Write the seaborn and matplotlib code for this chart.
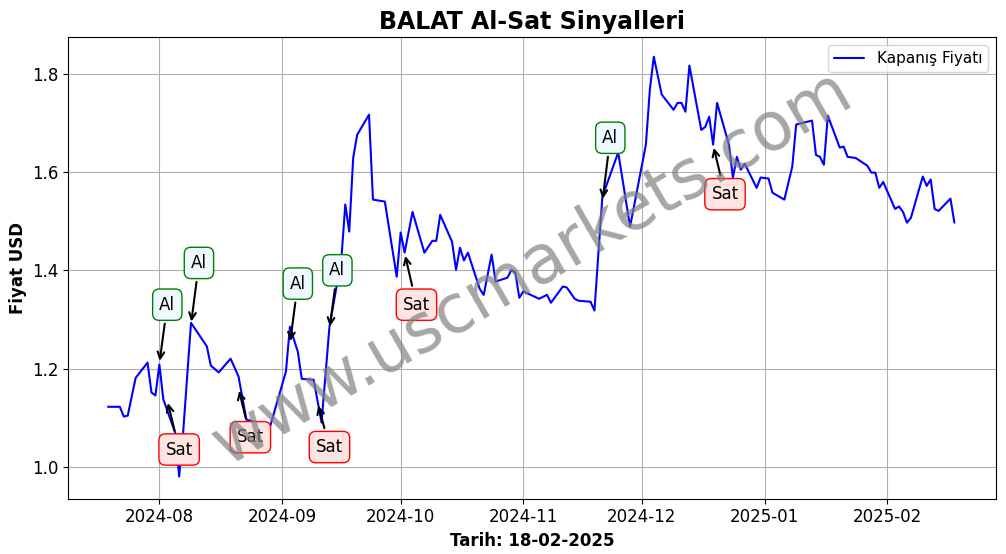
import matplotlib
matplotlib.use("Agg")
import matplotlib.pyplot as plt
import matplotlib.dates as mdates
import pandas as pd
import seaborn as sns

DATES = [
    "2024-07-19", "2024-07-22", "2024-07-23", "2024-07-24", "2024-07-26", "2024-07-29",
    "2024-07-30", "2024-07-31", "2024-08-01", "2024-08-02", "2024-08-05", "2024-08-06",
    "2024-08-07", "2024-08-09", "2024-08-13", "2024-08-14", "2024-08-16", "2024-08-19",
    "2024-08-21", "2024-08-23", "2024-08-29", "2024-09-02", "2024-09-03", "2024-09-05",
    "2024-09-06", "2024-09-09", "2024-09-11", "2024-09-13", "2024-09-16", "2024-09-17",
    "2024-09-18", "2024-09-19", "2024-09-20", "2024-09-23", "2024-09-24", "2024-09-27",
    "2024-09-30", "2024-10-01", "2024-10-02", "2024-10-04", "2024-10-07", "2024-10-09",
    "2024-10-10", "2024-10-11", "2024-10-14", "2024-10-15", "2024-10-16", "2024-10-17",
    "2024-10-18", "2024-10-21", "2024-10-22", "2024-10-24", "2024-10-25", "2024-10-28",
    "2024-10-29", "2024-10-30", "2024-10-31", "2024-11-01", "2024-11-05", "2024-11-07",
    "2024-11-08", "2024-11-11", "2024-11-12", "2024-11-14", "2024-11-15", "2024-11-18",
    "2024-11-19", "2024-11-20", "2024-11-21", "2024-11-25", "2024-11-28", "2024-12-02",
    "2024-12-03", "2024-12-04", "2024-12-06", "2024-12-09", "2024-12-10", "2024-12-11",
    "2024-12-12", "2024-12-13", "2024-12-16", "2024-12-17", "2024-12-18", "2024-12-19",
    "2024-12-20", "2024-12-23", "2024-12-24", "2024-12-25", "2024-12-26", "2024-12-27",
    "2024-12-30", "2024-12-31", "2025-01-02", "2025-01-03", "2025-01-06", "2025-01-08",
    "2025-01-09", "2025-01-13", "2025-01-14", "2025-01-15", "2025-01-16", "2025-01-17",
    "2025-01-20", "2025-01-21", "2025-01-22", "2025-01-24", "2025-01-27", "2025-01-28",
    "2025-01-29", "2025-01-30", "2025-01-31", "2025-02-03", "2025-02-04", "2025-02-05",
    "2025-02-06", "2025-02-07", "2025-02-10", "2025-02-11", "2025-02-12", "2025-02-13",
    "2025-02-14", "2025-02-17", "2025-02-18",
]
PRICES = [
    1.122, 1.122, 1.102, 1.104, 1.181, 1.212,
    1.151, 1.145, 1.208, 1.137, 1.069, 0.980,
    1.069, 1.293, 1.245, 1.206, 1.192, 1.220,
    1.184, 1.096, 1.082, 1.194, 1.285, 1.234,
    1.179, 1.177, 1.090, 1.285, 1.422, 1.534,
    1.479, 1.629, 1.676, 1.717, 1.544, 1.540,
    1.387, 1.477, 1.436, 1.519, 1.436, 1.460,
    1.460, 1.513, 1.458, 1.401, 1.446, 1.420,
    1.436, 1.362, 1.350, 1.432, 1.377, 1.385,
    1.401, 1.395, 1.344, 1.357, 1.342, 1.350,
    1.334, 1.367, 1.365, 1.342, 1.338, 1.336,
    1.318, 1.436, 1.550, 1.640, 1.489, 1.656,
    1.768, 1.835, 1.758, 1.727, 1.741, 1.741,
    1.723, 1.817, 1.686, 1.692, 1.713, 1.656,
    1.741, 1.656, 1.589, 1.631, 1.605, 1.617,
    1.568, 1.589, 1.587, 1.558, 1.544, 1.611,
    1.697, 1.705, 1.635, 1.631, 1.615, 1.715,
    1.650, 1.652, 1.631, 1.629, 1.613, 1.599,
    1.599, 1.568, 1.580, 1.525, 1.530, 1.519,
    1.497, 1.507, 1.591, 1.572, 1.585, 1.525,
    1.521, 1.546, 1.497,
]

# signals: (label, point date, arrow tip value, text date, text value)
SIGNALS = [
    ("Al", "2024-08-01", 1.21, "2024-08-03", 1.33),
    ("Al", "2024-08-09", 1.29, "2024-08-11", 1.415),
    ("Sat", "2024-08-03", 1.135, "2024-08-06", 1.035),
    ("Sat", "2024-08-21", 1.16, "2024-08-24", 1.06),
    ("Al", "2024-09-03", 1.25, "2024-09-05", 1.373),
    ("Al", "2024-09-13", 1.28, "2024-09-15", 1.40),
    ("Sat", "2024-09-10", 1.13, "2024-09-13", 1.04),
    ("Sat", "2024-10-02", 1.435, "2024-10-05", 1.33),
    ("Al", "2024-11-21", 1.54, "2024-11-23", 1.67),
    ("Sat", "2024-12-19", 1.655, "2024-12-22", 1.555),
]

df = pd.DataFrame({"Tarih": pd.to_datetime(DATES), "Fiyat": PRICES})

sns.set_style("ticks")
plt.rcParams["font.family"] = ["DejaVu Sans"]
plt.rcParams.update({"text.color": "black", "axes.labelcolor": "black",
                     "xtick.color": "black", "ytick.color": "black",
                     "axes.edgecolor": "black"})

fig, ax = plt.subplots(figsize=(10.06, 5.54), dpi=100)
sns.lineplot(data=df, x="Tarih", y="Fiyat", color="blue", linewidth=1.5,
             label="Kapanış Fiyatı", ax=ax)

for label, d, tip, td, tv in SIGNALS:
    is_buy = label == "Al"
    ax.annotate(
        label,
        xy=(pd.Timestamp(d), tip),
        xytext=(pd.Timestamp(td), tv),
        fontsize=12,
        ha="center",
        va="center",
        bbox=dict(boxstyle="round,pad=0.4",
                  fc="aliceblue" if is_buy else "mistyrose",
                  ec="green" if is_buy else "red"),
        arrowprops=dict(arrowstyle="->", color="black", lw=1.5),
    )

ax.text(0.5, 0.5, "www.uscmarkets.com", transform=ax.transAxes, fontsize=48,
        color="gray", alpha=0.7, rotation=30, ha="center", va="center")

ax.set_xlim(pd.Timestamp("2024-07-09"), pd.Timestamp("2025-02-28 12:00"))
ax.set_ylim(0.935, 1.875)
ax.xaxis.set_major_locator(mdates.MonthLocator())
ax.xaxis.set_major_formatter(mdates.DateFormatter("%Y-%m"))
ax.grid(True, color="#b0b0b0", linewidth=0.8)
ax.tick_params(labelsize=12)
ax.set_title("BALAT Al-Sat Sinyalleri", fontsize=17, fontweight="bold")
ax.set_xlabel("Tarih: 18-02-2025", fontsize=12, fontweight="bold")
ax.set_ylabel("Fiyat USD", fontsize=12, fontweight="bold")
ax.legend(loc="upper right", fontsize=11)

fig.subplots_adjust(left=0.068, right=0.99, top=0.933, bottom=0.1)
fig.savefig("out.png", dpi=100)
